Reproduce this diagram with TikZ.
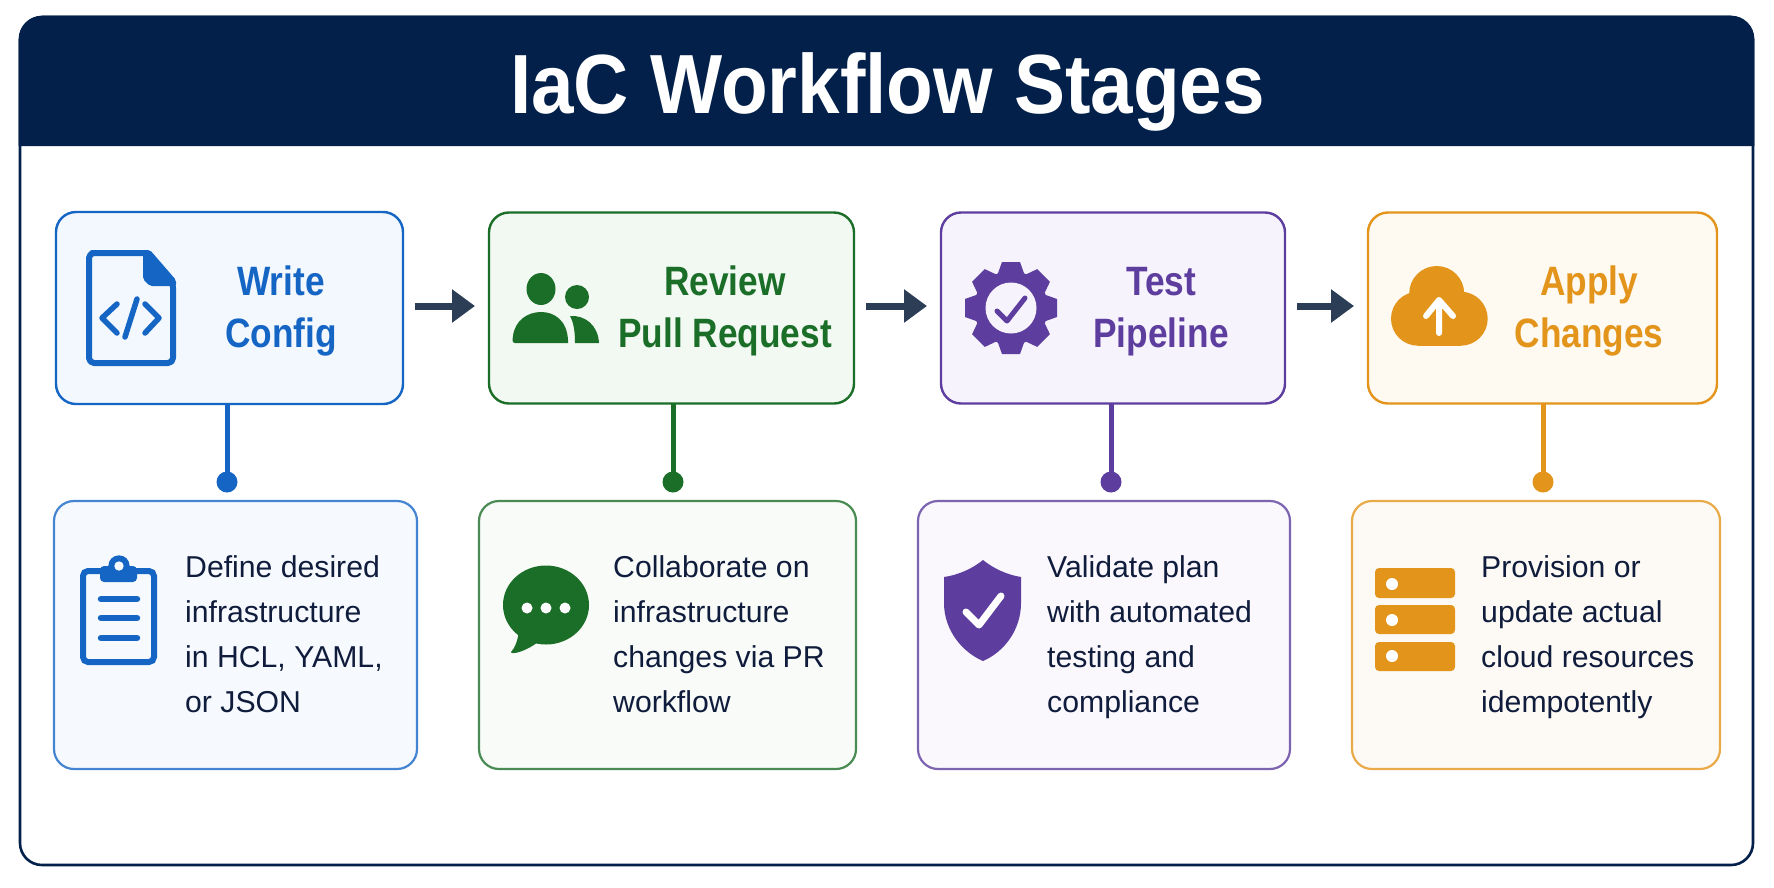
\documentclass[tikz,border=0pt]{standalone}
\usepackage{fontspec}
\usetikzlibrary{arrows.meta}
\setmainfont{Liberation Sans}
\newfontfamily\headfont[FakeStretch=0.91]{Liberation Sans}
\newfontfamily\stagefont[FakeStretch=0.86]{Liberation Sans}
\definecolor{navy}{HTML}{02204A}
\definecolor{ink}{HTML}{101C3C}
\definecolor{slate}{HTML}{2C3E55}
\definecolor{cblue}{HTML}{1565C4}
\definecolor{cgreen}{HTML}{1B6E28}
\definecolor{cpurple}{HTML}{5D3D9E}
\definecolor{corange}{HTML}{E3951B}
\definecolor{fblue}{HTML}{F3F8FE}
\definecolor{fgreen}{HTML}{F1F9F2}
\definecolor{fpurple}{HTML}{F6F3FD}
\definecolor{forange}{HTML}{FEF9F1}
\definecolor{lblue}{HTML}{F6FAFE}
\definecolor{lgreen}{HTML}{F8FBF8}
\definecolor{lpurple}{HTML}{FAF7FD}
\definecolor{lorange}{HTML}{FDFAF5}
\tikzset{
  stagebox/.style={draw=#1,line width=2.4pt,rounded corners=20pt,inner sep=0pt,outer sep=0pt},
  infobox/.style={draw=#1!80!white,line width=2.2pt,rounded corners=20pt,inner sep=0pt,outer sep=0pt},
  stagetext/.style={text=#1,align=center,inner sep=0pt,font=\stagefont\bfseries\fontsize{41}{51.5}\selectfont},
  infotext/.style={text=ink,align=left,inner sep=0pt,anchor=west,font=\fontsize{30.2}{45}\selectfont},
  flow/.style={draw=slate,line width=7pt,-{Triangle[length=23pt,width=32pt]},shorten <=12pt,shorten >=14pt},
  stem/.style={draw=#1,line width=5pt},
  pin/.style={circle,fill=#1,minimum size=21pt,inner sep=0pt,outer sep=0pt},
}
\newcommand{\topline}{\vphantom{l}}
\newcommand{\lowline}{\vphantom{p}}
\begin{document}
\begin{tikzpicture}[x=1pt,y=-1pt]
\useasboundingbox (0,0) rectangle (1774,887);
\fill[white] (0,0) rectangle (1774,887);
% frame and header
\draw[navy,line width=2.6pt,fill=white,rounded corners=22pt] (20,17) rectangle (1753,865);
\fill[navy] (18.7,146) {[rounded corners=24pt] -- (18.7,15.7) -- (1754.3,15.7)} -- (1754.3,146) -- cycle;
\node[text=white,inner sep=0pt,font=\headfont\bfseries\fontsize{84}{84}\selectfont] (title) at (887.5,92) {IaC Workflow Stages};
% stage boxes
\node[stagebox=cblue,fill=fblue,minimum width=347pt,minimum height=192pt] (s1) at (229.5,308) {};
\node[stagebox=cgreen,fill=fgreen,minimum width=365pt,minimum height=191pt] (s2) at (671.5,308) {};
\node[stagebox=cpurple,fill=fpurple,minimum width=344pt,minimum height=191pt] (s3) at (1113,308) {};
\node[stagebox=corange,fill=forange,minimum width=349pt,minimum height=191pt] (s4) at (1542.5,308) {};
% info boxes
\node[infobox=cblue,fill=lblue,minimum width=363pt,minimum height=268pt] (i1) at (235.5,635) {};
\node[infobox=cgreen,fill=lgreen,minimum width=377pt,minimum height=268pt] (i2) at (667.5,635) {};
\node[infobox=cpurple,fill=lpurple,minimum width=372pt,minimum height=268pt] (i3) at (1104,635) {};
\node[infobox=corange,fill=lorange,minimum width=368pt,minimum height=268pt] (i4) at (1536,635) {};
% arrows between stages
\draw[flow] ([yshift=2pt]s1.east) -- ([yshift=2pt]s2.west);
\draw[flow] ([yshift=2pt]s2.east) -- ([yshift=2pt]s3.west);
\draw[flow] ([yshift=2pt]s3.east) -- ([yshift=2pt]s4.west);
% pins
\node[pin=cblue] (p1) at (227,482) {};
\node[pin=cgreen] (p2) at (673,482) {};
\node[pin=cpurple] (p3) at (1111,482) {};
\node[pin=corange] (p4) at (1543,482) {};
\draw[stem=cblue] (s1.south -| p1) -- (p1);
\draw[stem=cgreen] (s2.south -| p2) -- (p2);
\draw[stem=cpurple] (s3.south -| p3) -- (p3);
\draw[stem=corange] (s4.south -| p4) -- (p4);
% stage titles
\node[stagetext=cblue] (t1) at (281,311) {\topline Write\\Config};
\node[stagetext=cgreen] (t2) at (725,311) {\topline Review\\Pull Request};
\node[stagetext=cpurple] (t3) at (1161,311) {\topline Test\\Pipeline};
\node[stagetext=corange] (t4) at (1589,311) {\topline Apply\\Changes};
% info texts
\node[infotext] (d1) at (185,637) {\topline Define desired\\infrastructure\\in HCL, YAML,\\or JSON\lowline};
\node[infotext] (d2) at (613,637) {\topline Collaborate on\\infrastructure\\changes via PR\\workflow\lowline};
\node[infotext] (d3) at (1047,637) {\topline Validate plan\\with automated\\testing and\\compliance\lowline};
\node[infotext] (d4) at (1481,637) {\topline Provision or\\update actual\\cloud resources\\idempotently\lowline};
% file icon
\draw[cblue,line width=6pt,line join=round,fill=none] (147,253) -- (92,253) [rounded corners=5pt] -- (89,253) -- (89,363) -- (173,363) -- (173,283) [sharp corners] -- (147,253);
\fill[cblue,rounded corners=2pt] (143,250) -- (150,250) -- (176,280) -- (176,286) -- (150,286) -- (143,279) -- cycle;
\draw[cblue,line width=5.5pt,line cap=round,line join=round] (117,304) -- (102,318) -- (117,333);
\draw[cblue,line width=5.5pt,line cap=round] (137,299) -- (125,337);
\draw[cblue,line width=5.5pt,line cap=round,line join=round] (145,304) -- (159,318) -- (145,333);
% people icon
\fill[cgreen] (541,289) ellipse (14.5pt and 16pt);
\fill[cgreen] (577,297) circle (12pt);
\fill[cgreen] (515,343) .. controls (511,343) and (513,338) .. (513,336) .. controls (515,320) and (528,312) .. (541,312) .. controls (554,312) and (567,320) .. (568,340) -- (568,343) -- cycle;
\fill[cgreen] (570,316) .. controls (585,315) and (598,325) .. (599,343) -- (575,343) .. controls (575,333) and (574,323) .. (570,316) -- cycle;
% gear icon
\begin{scope}[shift={(1011,308)}]
\fill[cpurple] (0,0) circle (37pt);
\foreach \a in {0,45,...,315} {\fill[cpurple,rotate=\a] (-14,-32) -- (-9,-46) -- (9,-46) -- (14,-32) -- cycle;}
\fill[fpurple] (0,0) circle (25.5pt);
\end{scope}
\draw[cpurple,line width=5pt,line cap=round,line join=round] (997,311) -- (1007,321) -- (1025,298);
% cloud icon
\fill[corange] (1418,318.7) circle (27pt) (1460.7,318.7) circle (27pt) (1436.7,293.5) circle (27.5pt);
\fill[corange] (1418,300) rectangle (1460.7,345.7);
\draw[white,line width=6pt,line cap=round,line join=round] (1439,333) -- (1439,300) (1426,316) -- (1439,300) -- (1453,316);
% clipboard icon
\draw[cblue,line width=6pt,rounded corners=5pt] (83,571) rectangle (154,662);
\fill[cblue,rounded corners=4pt] (100,566) rectangle (137,582);
\fill[cblue] (119,566) circle (10.7pt);
\fill[lblue] (119,566) circle (4.7pt);
\draw[cblue,line width=6.5pt,line cap=round] (101,599) -- (137,599) (101,618) -- (137,618) (101,638) -- (137,638);
% speech bubble icon
\fill[cgreen] (546,605) ellipse (43pt and 39.5pt);
\fill[cgreen,line join=round] (519,630) .. controls (518,640) and (515,648) .. (511,652) .. controls (511,655) and (525,652) .. (538,642) -- cycle;
\fill[white] (527,608) circle (5.5pt) (546,608) circle (5.5pt) (565,608) circle (5.5pt);
% shield icon
\fill[cpurple] (983,560) .. controls (972,569) and (958,575) .. (944,577) -- (944,603) .. controls (944,630) and (962,652) .. (983,661) .. controls (1004,652) and (1021,630) .. (1021,603) -- (1021,577) .. controls (1008,575) and (994,569) .. (983,560) -- cycle;
\draw[white,line width=7pt,line cap=round,line join=round] (966,612) -- (979,625) -- (1001,596);
% server icon
\fill[corange,rounded corners=4pt] (1375,568) rectangle (1455,598);
\fill[corange,rounded corners=4pt] (1375,605) rectangle (1455,634);
\fill[corange,rounded corners=4pt] (1375,642) rectangle (1455,671);
\fill[white] (1392,584) circle (6pt) (1392,620) circle (6pt) (1392,656) circle (6pt);
\end{tikzpicture}
\end{document}
